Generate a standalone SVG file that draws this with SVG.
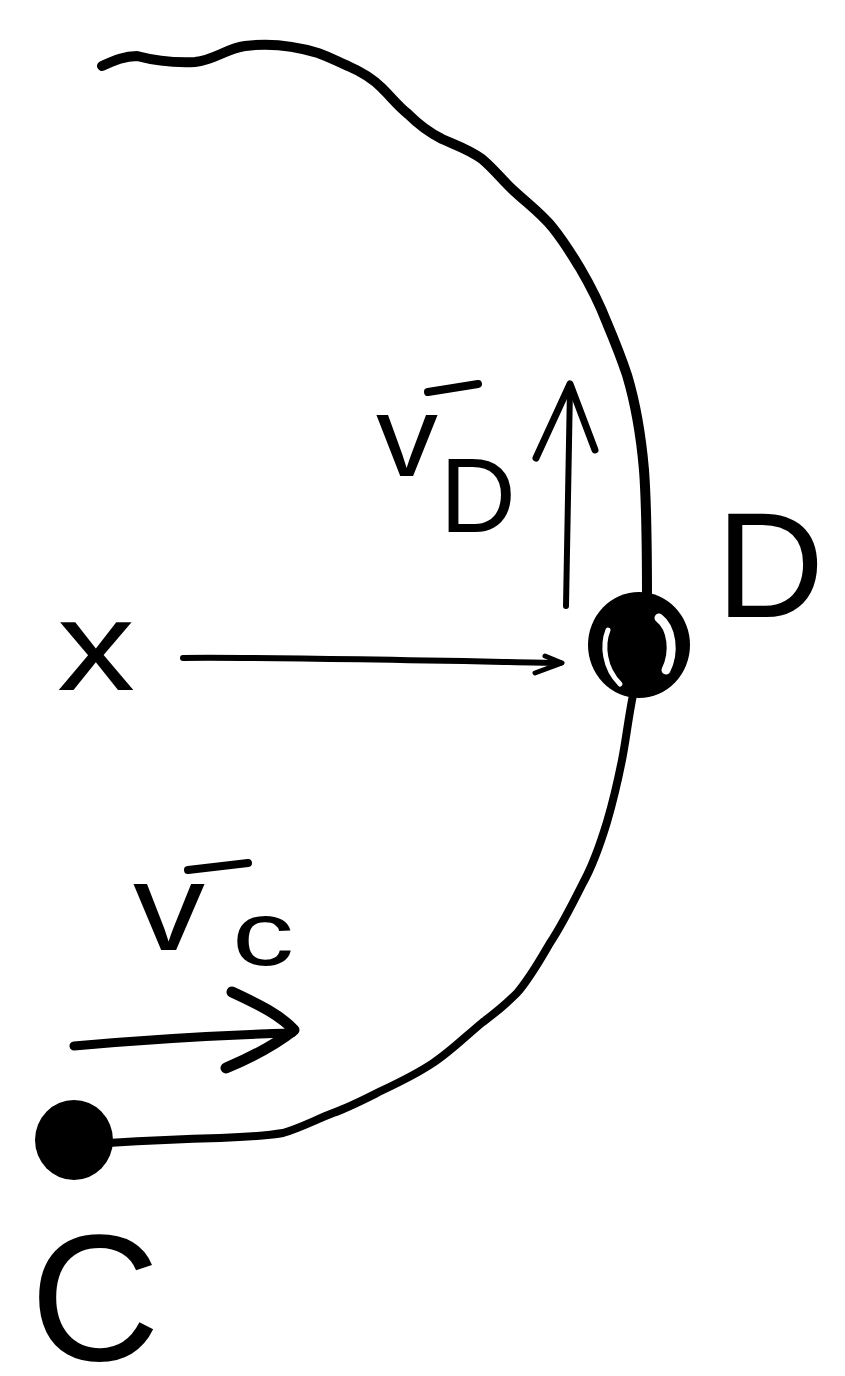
<svg xmlns="http://www.w3.org/2000/svg" width="845" height="1376" viewBox="0 0 845 1376">
<style>
.ink{fill:none;stroke:#000;stroke-linecap:round;stroke-linejoin:round}
.gap{fill:none;stroke:#fff;stroke-linecap:round}
.lbl{font-family:"Liberation Sans",Arial,sans-serif;fill:#000}
</style>
<rect width="845" height="1376" fill="#fff"/>
<g id="connectors">
  <path id="path-top" class="ink" stroke-width="10" d="M102,66 C115,60 125,56 137,56 C152,60 170,63 195,62 C215,60 225,49 245,46 C268,43 292,45 318,53 C332,58 338,62 348,66 C362,72 372,78 382,88 C392,98 398,106 408,114 C418,124 428,132 442,139 C458,146 470,150 482,159 C495,170 502,180 513,190 C528,204 542,214 553,228 C565,243 572,255 580,268 C590,285 600,305 607,323 C615,342 622,360 627,375 C636,405 641,435 644,470 C647,510 647,560 647,600"/>
  <path id="path-bottom" class="ink" stroke-width="8" d="M633,695 C628,720 626,740 622,760 C617,785 612,805 607,822 C600,845 593,865 583,883 C572,905 562,925 550,943 C540,960 530,978 517,993 C505,1005 495,1013 483,1022 C467,1035 450,1052 433,1063 C418,1073 400,1082 383,1090 C365,1099 350,1107 333,1113 C315,1120 300,1128 283,1133 C265,1136 245,1137 220,1138 C180,1139 140,1141 108,1143"/>
  <g id="edge-x-D">
    <path class="ink" stroke-width="6" d="M183,658 C260,657 400,660 560,663"/>
    <path class="ink" stroke-width="5" d="M545,656 L562,663 L535,673"/>
  </g>
  <g id="arrow-vD">
    <path class="ink" stroke-width="6" d="M566,606 C567,540 568,470 570,388"/>
    <path class="ink" stroke-width="7" d="M536,458 L570,384 L595,450"/>
  </g>
  <g id="arrow-vC">
    <path class="ink" stroke-width="9" d="M74,1046 C140,1040 220,1035 292,1033"/>
    <path class="ink" stroke-width="11" d="M232,992 C260,1005 280,1015 294,1030 C275,1045 250,1058 226,1068"/>
  </g>
</g>
<g id="node-D">
  <ellipse cx="639" cy="645" rx="51" ry="53" fill="#000"/>
  <path class="gap" stroke-width="5" d="M608,630 C602,645 604,668 620,684"/>
  <path class="gap" stroke-width="9" d="M659,618 C672,628 675,652 666,670"/>
</g>
<g id="node-C">
  <ellipse cx="74" cy="1140" rx="39" ry="40" fill="#000"/>
</g>
<g id="labels">
  <text class="lbl" x="57" y="690" font-size="128" textLength="78" lengthAdjust="spacingAndGlyphs">x</text>
  <text class="lbl" x="716" y="617" font-size="150">D</text>
  <text class="lbl" x="30" y="1360" font-size="180">C</text>
  <g id="label-vD">
    <text class="lbl" x="376" y="476" font-size="115" textLength="62" lengthAdjust="spacingAndGlyphs">v</text>
    <line class="ink" stroke-width="8" x1="428" y1="392" x2="478" y2="384"/>
    <text class="lbl" x="440" y="532" font-size="105">D</text>
  </g>
  <g id="label-vC">
    <text class="lbl" x="133" y="950" font-size="125" textLength="72" lengthAdjust="spacingAndGlyphs">v</text>
    <line class="ink" stroke-width="8" x1="188" y1="870" x2="248" y2="863"/>
    <text class="lbl" x="232" y="965" font-size="90" textLength="62" lengthAdjust="spacingAndGlyphs">c</text>
  </g>
</g>
</svg>
